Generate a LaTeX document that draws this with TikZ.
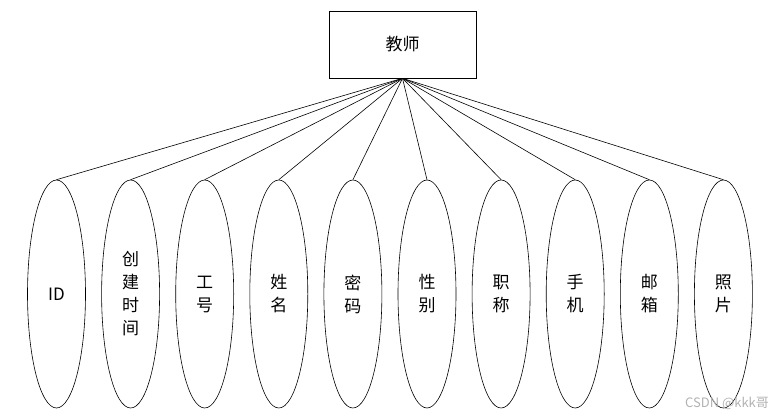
\documentclass[tikz,border=0pt]{standalone}
\usepackage{fontspec}
\setmainfont{Noto Sans CJK SC}
\usepackage{tikz}
\usetikzlibrary{positioning,shapes.geometric}
\tikzset{
  entity/.style ={draw=black,line width=0.6pt,minimum width=147pt,minimum height=67pt,
                  inner sep=0pt,font=\fontsize{17}{23}\selectfont},
  attr/.style   ={ellipse,draw=black,line width=0.6pt,minimum width=58pt,minimum height=228pt,
                  inner sep=0pt,align=center,font=\fontsize{17}{23}\selectfont},
  link/.style   ={line width=0.6pt,draw=black},
  wmark/.style  ={font=\fontsize{13}{15}\selectfont,text=black!30}
}
\begin{document}
\begin{tikzpicture}[x=1pt,y=1pt,node distance=15.5pt]
    \useasboundingbox (0,0) rectangle (781,418);
    \node[entity] (teacher) at (402.5,373.5) {教师};
    % attributes, left to right
    \node[attr] (id) at (56.5,124) {ID};
    \node[attr,right=of id] (ctime) {创\\建\\时\\间};
    \node[attr,right=of ctime] (num) {工\\号};
    \node[attr,right=of num] (name) {姓\\名};
    \node[attr,right=of name] (pwd) {密\\码};
    \node[attr,right=of pwd] (sex) {性\\别};
    \node[attr,right=of sex] (title) {职\\称};
    \node[attr,right=of title] (phone) {手\\机};
    \node[attr,right=of phone] (mail) {邮\\箱};
    \node[attr,right=of mail] (photo) {照\\片};
    \draw[link] (teacher.south) -- (id.north);
    \draw[link] (teacher.south) -- (ctime.north);
    \draw[link] (teacher.south) -- (num.north);
    \draw[link] (teacher.south) -- (name.north);
    \draw[link] (teacher.south) -- (pwd.north);
    \draw[link] (teacher.south) -- (sex.north);
    \draw[link] (teacher.south) -- (title.north);
    \draw[link] (teacher.south) -- (phone.north);
    \draw[link] (teacher.south) -- (mail.north);
    \draw[link] (teacher.south) -- (photo.north);
    \node[wmark] (wm) at (727,15) {CSDN @kkk哥};
  \end{tikzpicture}
\end{document}
